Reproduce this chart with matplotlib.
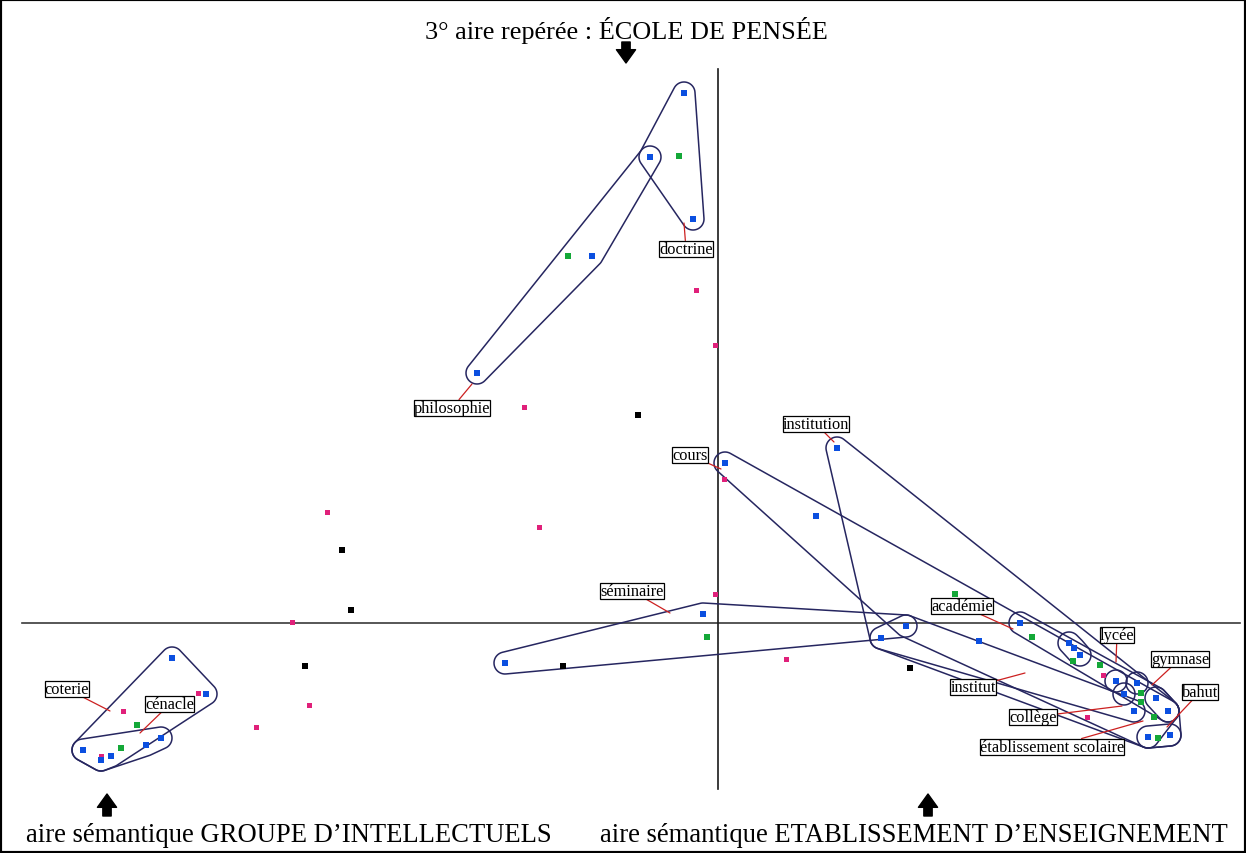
import numpy as np
import matplotlib
matplotlib.use("Agg")
import matplotlib.pyplot as plt
from matplotlib.patches import Polygon, Rectangle, FancyArrowPatch

# ---------------- data (factor coordinates) ----------------
blue_x = [-0.34, -0.68, -0.25, -1.26, -2.41, 0.07, 1.19, 0.98, -0.15, -2.13,
          1.88, 1.63, 2.61, 3.02, 3.51, 3.56, 3.62, 3.98, 4.19, 4.06,
          4.38, 4.16, 4.50, 4.30, 4.52,
          -5.46, -5.12, -5.57, -5.72, -6.35, -6.17, -6.07]
blue_y = [5.30, 4.66, 4.04, 3.67, 2.50, 1.60, 1.75, 1.07, 0.09, -0.40,
          -0.03, -0.15, -0.18, 0.00, -0.20, -0.25, -0.32, -0.58, -0.60, -0.71,
          -0.75, -0.88, -0.88, -1.14, -1.12,
          -0.35, -0.71, -1.15, -1.22, -1.27, -1.37, -1.33]

green_x = [-0.39, -1.50, -0.11, 2.37, 3.14, 3.55, 3.82, 4.23, 4.23, 4.36, 4.40, -5.81, -5.97]
green_y = [4.67, 3.67, -0.14, 0.29, -0.14, -0.38, -0.42, -0.70, -0.79, -0.94, -1.15, -1.02, -1.25]

pink_x = [-0.22, -0.03, -1.94, -3.91, -1.79, 0.06, -0.03, -4.26, -4.09, -4.62,
          0.68, 3.85, 3.69, -5.95, -5.20, -6.17]
pink_y = [3.33, 2.78, 2.16, 1.11, 0.96, 1.44, 0.29, 0.01, -0.82, -1.04,
          -0.36, -0.52, -0.94, -0.88, -0.70, -1.33]

black_x = [-0.80, -3.76, -3.67, -4.13, -1.55, 1.92]
black_y = [2.08, 0.73, 0.13, -0.43, -0.43, -0.45]

# groups of blue points enclosed by an outline (indices into blue arrays)
hull_groups = [
    [4, 3, 1],            # philosophie
    [0, 1, 2],            # doctrine
    [5, 10, 23, 22],      # cours
    [6, 11, 22, 24, 23],  # institution
    [9, 8, 10],           # séminaire
    [13, 20, 22],         # académie
    [11, 10, 21],         # institut
    [14, 15, 16],         # lycée
    [17], [18], [19],
    [20, 22],             # gymnase
    [23, 24],             # établissement scolaire
    [25, 26, 29, 30, 31], # coterie
    [29, 30, 28, 27],     # cénacle
]

label_texts = ["philosophie", "doctrine", "cours", "institution", "séminaire",
               "académie", "institut", "lycée", "gymnase", "bahut", "collège",
               "établissement scolaire", "coterie", "cénacle"]

# label placement (text centre, leader end)
label_layout = {
    "philosophie": ((-2.66, 2.15), (-2.46, 2.39)),
    "doctrine": ((-0.32, 3.74), (-0.34, 4.00)),
    "cours": ((-0.28, 1.68), (0.03, 1.54)),
    "institution": ((0.98, 1.99), (1.16, 1.81)),
    "séminaire": ((-0.86, 0.32), (-0.48, 0.10)),
    "académie": ((2.44, 0.17), (2.95, -0.06)),
    "institut": ((2.55, -0.64), (3.07, -0.50)),
    "lycée": ((3.99, -0.12), (3.98, -0.39)),
    "gymnase": ((4.62, -0.36), (4.34, -0.62)),
    "bahut": ((4.82, -0.69), (4.49, -1.04)),
    "collège": ((3.15, -0.94), (4.04, -0.83)),
    "établissement scolaire": ((3.34, -1.24), (4.25, -0.98)),
    "coterie": ((-6.51, -0.66), (-6.08, -0.88)),
    "cénacle": ((-5.48, -0.81), (-5.78, -1.10)),
}

title_top = "3° aire repérée : ÉCOLE DE PENSÉE"
title_left = "aire sémantique GROUPE D\u2019INTELLECTUELS"
title_right = "aire sémantique ETABLISSEMENT D\u2019ENSEIGNEMENT"


# ---------------- helpers ----------------
def convex_hull(P):
    P = sorted(set(P))
    if len(P) <= 2:
        return P

    def cross(o, a, b):
        return (a[0] - o[0]) * (b[1] - o[1]) - (a[1] - o[1]) * (b[0] - o[0])

    lower = []
    for p in P:
        while len(lower) >= 2 and cross(lower[-2], lower[-1], p) <= 0:
            lower.pop()
        lower.append(p)
    upper = []
    for p in reversed(P):
        while len(upper) >= 2 and cross(upper[-2], upper[-1], p) <= 0:
            upper.pop()
        upper.append(p)
    return lower[:-1] + upper[:-1]


def rounded_outline(P, r, n=24):
    H = convex_hull(P)
    if len(H) == 1:
        t = np.linspace(0, 2 * np.pi, 60)
        return np.column_stack([H[0][0] + r * np.cos(t), H[0][1] + r * np.sin(t)])
    out = []
    m = len(H)
    for i in range(m):
        p = np.array(H[i]); a = np.array(H[i - 1]); b = np.array(H[(i + 1) % m])
        d1 = p - a; n1 = np.array([d1[1], -d1[0]]) / np.hypot(*d1)
        d2 = b - p; n2 = np.array([d2[1], -d2[0]]) / np.hypot(*d2)
        t1 = np.arctan2(n1[1], n1[0]); t2 = np.arctan2(n2[1], n2[0])
        while t2 < t1:
            t2 += 2 * np.pi
        ts = np.linspace(t1, t2, n)
        for t in ts:
            out.append((p[0] + r * np.cos(t), p[1] + r * np.sin(t)))
    return np.array(out)


# ---------------- figure ----------------
fig = plt.figure(figsize=(12.46, 8.54), dpi=100)
ax = fig.add_axes([0, 0, 1, 1])
ax.set_xlim(-7.18, 5.28)
ax.set_ylim(-2.30, 6.24)
ax.axis("off")

# axes through origin
ax.plot([-6.96, 5.22], [0, 0], color="#3a3a3a", lw=1.2, zorder=1)
ax.plot([0, 0], [-1.66, 5.54], color="#1a1a1a", lw=1.2, zorder=1)

# hull outlines
hull_color = "#262660"
for g in hull_groups:
    pts = [(blue_x[i], blue_y[i]) for i in g]
    poly = rounded_outline(pts, 0.11)
    ax.add_patch(Polygon(poly, closed=True, fill=False, ec=hull_color, lw=1.1, zorder=2))

# points
ax.plot(pink_x, pink_y, "s", color="#e0207a", ms=3.6, mew=0, ls="none", zorder=3)
ax.plot(black_x, black_y, "s", color="black", ms=4.2, mew=0, ls="none", zorder=3)
ax.plot(green_x, green_y, "s", color="#14a838", ms=3.8, mew=0, ls="none", zorder=3)
ax.plot(blue_x, blue_y, "s", color="#0b4fe0", ms=4.4, mew=0, ls="none", zorder=4)

# labels with red leaders
for txt in label_texts:
    (tx, ty), (ax_, ay_) = label_layout[txt]
    ax.annotate(txt, xy=(ax_, ay_), xytext=(tx, ty), ha="center", va="center",
                fontsize=11.8, family="Liberation Serif", zorder=6,
                bbox=dict(boxstyle="square,pad=0.0", fc="white", ec="black", lw=0.9),
                arrowprops=dict(arrowstyle="-", color="#cc2020", lw=0.9,
                                shrinkA=0, shrinkB=0))

# titles
fig.text(626 / 1246, 1 - 30 / 854, title_top, ha="center", va="center",
         fontsize=18.9, family="Liberation Serif")
fig.text(26 / 1246, 1 - 836 / 854, title_left, ha="left", va="center",
         fontsize=19.2, family="Liberation Serif")
fig.text(1228 / 1246, 1 - 836 / 854, title_right, ha="right", va="center",
         fontsize=19.2, family="Liberation Serif")

# thick arrows
def big_arrow(x0, y0, x1, y1):
    a = FancyArrowPatch((x0 / 1246, 1 - y0 / 854), (x1 / 1246, 1 - y1 / 854),
                        transform=fig.transFigure,
                        arrowstyle="simple,head_width=1.15,head_length=0.8,tail_width=0.5",
                        mutation_scale=12, color="black", shrinkA=0, shrinkB=0)
    fig.patches.append(a)

big_arrow(626, 43, 626, 64)
big_arrow(107, 817, 107, 795)
big_arrow(928, 817, 928, 795)

# frame
fig.patches.append(Rectangle((0, 0), 1, 1, transform=fig.transFigure, fill=False,
                             ec="black", lw=3))

fig.savefig("out.png", dpi=100)
